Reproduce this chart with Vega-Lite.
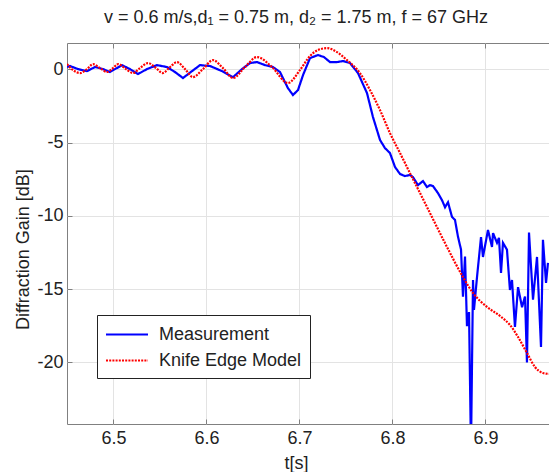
{
  "$schema": "https://vega.github.io/schema/vega-lite/v6.json",
  "width": 482,
  "height": 381,
  "autosize": {"type": "none"},
  "padding": {"left": 67, "top": 43, "right": 0, "bottom": 48},
  "background": "white",
  "config": {
    "font": "Liberation Sans",
    "view": {"stroke": "#808080", "strokeWidth": 1},
    "axis": {
      "labelFontSize": 18,
      "labelColor": "#222222",
      "titleFontSize": 18,
      "titleFontWeight": "normal",
      "titleColor": "#222222",
      "gridColor": "#e3e3e3",
      "gridWidth": 1,
      "domain": false,
      "tickColor": "#808080",
      "tickSize": -5,
      "labelExpr": "replace(datum.label, '−', '-')"
    },
    "legend": {
      "labelFontSize": 18,
      "labelColor": "#222222"
    }
  },
  "title": {
    "text": "v = 0.6 m/s,d₁ = 0.75 m, d₂ = 1.75 m, f = 67 GHz",
    "fontSize": 18,
    "fontWeight": "normal",
    "color": "#222222",
    "offset": 16,
    "dx": -12
  },
  "datasets": {
    "meas": [
      {"t": 6.450, "gain": 0.16, "series": "Measurement"},
      {"t": 6.4532, "gain": 0.23, "series": "Measurement"},
      {"t": 6.4618, "gain": 0.02, "series": "Measurement"},
      {"t": 6.4715, "gain": -0.12, "series": "Measurement"},
      {"t": 6.4801, "gain": 0.16, "series": "Measurement"},
      {"t": 6.4887, "gain": 0.02, "series": "Measurement"},
      {"t": 6.4962, "gain": -0.18, "series": "Measurement"},
      {"t": 6.5091, "gain": 0.29, "series": "Measurement"},
      {"t": 6.5177, "gain": 0.02, "series": "Measurement"},
      {"t": 6.5263, "gain": -0.32, "series": "Measurement"},
      {"t": 6.536, "gain": 0.02, "series": "Measurement"},
      {"t": 6.5468, "gain": 0.29, "series": "Measurement"},
      {"t": 6.5575, "gain": 0.16, "series": "Measurement"},
      {"t": 6.5661, "gain": -0.18, "series": "Measurement"},
      {"t": 6.5747, "gain": -0.59, "series": "Measurement"},
      {"t": 6.5844, "gain": -0.12, "series": "Measurement"},
      {"t": 6.593, "gain": 0.29, "series": "Measurement"},
      {"t": 6.6038, "gain": 0.23, "series": "Measurement"},
      {"t": 6.6167, "gain": -0.12, "series": "Measurement"},
      {"t": 6.6285, "gain": -0.53, "series": "Measurement"},
      {"t": 6.6382, "gain": 0.02, "series": "Measurement"},
      {"t": 6.6468, "gain": 0.43, "series": "Measurement"},
      {"t": 6.6543, "gain": 0.5, "series": "Measurement"},
      {"t": 6.6629, "gain": 0.29, "series": "Measurement"},
      {"t": 6.6715, "gain": 0.16, "series": "Measurement"},
      {"t": 6.679, "gain": -0.18, "series": "Measurement"},
      {"t": 6.6876, "gain": -1.28, "series": "Measurement"},
      {"t": 6.693, "gain": -1.75, "series": "Measurement"},
      {"t": 6.6984, "gain": -1.41, "series": "Measurement"},
      {"t": 6.7038, "gain": -0.39, "series": "Measurement"},
      {"t": 6.7113, "gain": 0.77, "series": "Measurement"},
      {"t": 6.7199, "gain": 0.98, "series": "Measurement"},
      {"t": 6.7263, "gain": 0.84, "series": "Measurement"},
      {"t": 6.7328, "gain": 0.5, "series": "Measurement"},
      {"t": 6.7403, "gain": 0.5, "series": "Measurement"},
      {"t": 6.7468, "gain": 0.57, "series": "Measurement"},
      {"t": 6.7543, "gain": 0.43, "series": "Measurement"},
      {"t": 6.7629, "gain": -0.25, "series": "Measurement"},
      {"t": 6.7726, "gain": -1.62, "series": "Measurement"},
      {"t": 6.779, "gain": -3.25, "series": "Measurement"},
      {"t": 6.7866, "gain": -4.82, "series": "Measurement"},
      {"t": 6.7919, "gain": -5.37, "series": "Measurement"},
      {"t": 6.7973, "gain": -5.71, "series": "Measurement"},
      {"t": 6.8027, "gain": -6.66, "series": "Measurement"},
      {"t": 6.8081, "gain": -7.14, "series": "Measurement"},
      {"t": 6.8134, "gain": -7.28, "series": "Measurement"},
      {"t": 6.8188, "gain": -7.21, "series": "Measurement"},
      {"t": 6.822, "gain": -7.35, "series": "Measurement"},
      {"t": 6.8274, "gain": -7.9, "series": "Measurement"},
      {"t": 6.8328, "gain": -7.62, "series": "Measurement"},
      {"t": 6.8371, "gain": -8.03, "series": "Measurement"},
      {"t": 6.8403, "gain": -7.9, "series": "Measurement"},
      {"t": 6.8435, "gain": -7.96, "series": "Measurement"},
      {"t": 6.8489, "gain": -8.44, "series": "Measurement"},
      {"t": 6.8532, "gain": -8.92, "series": "Measurement"},
      {"t": 6.8565, "gain": -9.41, "series": "Measurement"},
      {"t": 6.8597, "gain": -9.07, "series": "Measurement"},
      {"t": 6.864, "gain": -10.07, "series": "Measurement"},
      {"t": 6.8672, "gain": -10.27, "series": "Measurement"},
      {"t": 6.8704, "gain": -11.41, "series": "Measurement"},
      {"t": 6.8737, "gain": -12.3, "series": "Measurement"},
      {"t": 6.8758, "gain": -15.51, "series": "Measurement"},
      {"t": 6.878, "gain": -12.78, "series": "Measurement"},
      {"t": 6.8801, "gain": -17.52, "series": "Measurement"},
      {"t": 6.8823, "gain": -16.56, "series": "Measurement"},
      {"t": 6.8844, "gain": -26.0, "series": "Measurement"},
      {"t": 6.8866, "gain": -14.37, "series": "Measurement"},
      {"t": 6.8876, "gain": -16.42, "series": "Measurement"},
      {"t": 6.8909, "gain": -14.17, "series": "Measurement"},
      {"t": 6.8952, "gain": -11.44, "series": "Measurement"},
      {"t": 6.8973, "gain": -12.8, "series": "Measurement"},
      {"t": 6.9027, "gain": -10.96, "series": "Measurement"},
      {"t": 6.907, "gain": -12.12, "series": "Measurement"},
      {"t": 6.9081, "gain": -11.17, "series": "Measurement"},
      {"t": 6.9124, "gain": -11.84, "series": "Measurement"},
      {"t": 6.9145, "gain": -11.5, "series": "Measurement"},
      {"t": 6.9167, "gain": -13.89, "series": "Measurement"},
      {"t": 6.9188, "gain": -11.84, "series": "Measurement"},
      {"t": 6.9231, "gain": -12.3, "series": "Measurement"},
      {"t": 6.9263, "gain": -15.05, "series": "Measurement"},
      {"t": 6.9285, "gain": -14.37, "series": "Measurement"},
      {"t": 6.9317, "gain": -17.58, "series": "Measurement"},
      {"t": 6.935, "gain": -14.86, "series": "Measurement"},
      {"t": 6.9393, "gain": -16.23, "series": "Measurement"},
      {"t": 6.9425, "gain": -15.5, "series": "Measurement"},
      {"t": 6.9446, "gain": -20.0, "series": "Measurement"},
      {"t": 6.9468, "gain": -11.14, "series": "Measurement"},
      {"t": 6.9511, "gain": -15.71, "series": "Measurement"},
      {"t": 6.9554, "gain": -12.8, "series": "Measurement"},
      {"t": 6.9597, "gain": -18.95, "series": "Measurement"},
      {"t": 6.9618, "gain": -11.63, "series": "Measurement"},
      {"t": 6.9651, "gain": -14.57, "series": "Measurement"},
      {"t": 6.9672, "gain": -13.2, "series": "Measurement"}
    ],
    "model": [
      {"t": 6.450, "gain": 0.36, "series": "Knife Edge Model"},
      {"t": 6.4565, "gain": -0.05, "series": "Knife Edge Model"},
      {"t": 6.464, "gain": -0.25, "series": "Knife Edge Model"},
      {"t": 6.4715, "gain": 0.02, "series": "Knife Edge Model"},
      {"t": 6.478, "gain": 0.36, "series": "Knife Edge Model"},
      {"t": 6.4855, "gain": 0.09, "series": "Knife Edge Model"},
      {"t": 6.493, "gain": -0.18, "series": "Knife Edge Model"},
      {"t": 6.4995, "gain": 0.09, "series": "Knife Edge Model"},
      {"t": 6.505, "gain": 0.36, "series": "Knife Edge Model"},
      {"t": 6.5134, "gain": 0.02, "series": "Knife Edge Model"},
      {"t": 6.521, "gain": -0.25, "series": "Knife Edge Model"},
      {"t": 6.5285, "gain": 0.09, "series": "Knife Edge Model"},
      {"t": 6.537, "gain": 0.43, "series": "Knife Edge Model"},
      {"t": 6.5457, "gain": 0.09, "series": "Knife Edge Model"},
      {"t": 6.553, "gain": -0.25, "series": "Knife Edge Model"},
      {"t": 6.5608, "gain": 0.16, "series": "Knife Edge Model"},
      {"t": 6.5683, "gain": 0.5, "series": "Knife Edge Model"},
      {"t": 6.5769, "gain": 0.02, "series": "Knife Edge Model"},
      {"t": 6.5855, "gain": -0.53, "series": "Knife Edge Model"},
      {"t": 6.5962, "gain": 0.02, "series": "Knife Edge Model"},
      {"t": 6.607, "gain": 0.63, "series": "Knife Edge Model"},
      {"t": 6.6177, "gain": 0.09, "series": "Knife Edge Model"},
      {"t": 6.6285, "gain": -0.59, "series": "Knife Edge Model"},
      {"t": 6.6414, "gain": 0.16, "series": "Knife Edge Model"},
      {"t": 6.6543, "gain": 0.84, "series": "Knife Edge Model"},
      {"t": 6.6704, "gain": 0.16, "series": "Knife Edge Model"},
      {"t": 6.6876, "gain": -0.93, "series": "Knife Edge Model"},
      {"t": 6.7005, "gain": -0.05, "series": "Knife Edge Model"},
      {"t": 6.7113, "gain": 0.91, "series": "Knife Edge Model"},
      {"t": 6.7199, "gain": 1.32, "series": "Knife Edge Model"},
      {"t": 6.7296, "gain": 1.45, "series": "Knife Edge Model"},
      {"t": 6.7403, "gain": 1.18, "series": "Knife Edge Model"},
      {"t": 6.7511, "gain": 0.63, "series": "Knife Edge Model"},
      {"t": 6.765, "gain": -0.25, "series": "Knife Edge Model"},
      {"t": 6.7758, "gain": -1.41, "series": "Knife Edge Model"},
      {"t": 6.7866, "gain": -2.78, "series": "Knife Edge Model"},
      {"t": 6.7973, "gain": -4.35, "series": "Knife Edge Model"},
      {"t": 6.8081, "gain": -5.71, "series": "Knife Edge Model"},
      {"t": 6.8188, "gain": -7.08, "series": "Knife Edge Model"},
      {"t": 6.8296, "gain": -8.44, "series": "Knife Edge Model"},
      {"t": 6.8403, "gain": -9.8, "series": "Knife Edge Model"},
      {"t": 6.8586, "gain": -12.12, "series": "Knife Edge Model"},
      {"t": 6.8758, "gain": -14.17, "series": "Knife Edge Model"},
      {"t": 6.8866, "gain": -15.26, "series": "Knife Edge Model"},
      {"t": 6.9016, "gain": -16.21, "series": "Knife Edge Model"},
      {"t": 6.9156, "gain": -16.83, "series": "Knife Edge Model"},
      {"t": 6.9263, "gain": -17.44, "series": "Knife Edge Model"},
      {"t": 6.935, "gain": -18.26, "series": "Knife Edge Model"},
      {"t": 6.9446, "gain": -19.35, "series": "Knife Edge Model"},
      {"t": 6.9532, "gain": -20.31, "series": "Knife Edge Model"},
      {"t": 6.9618, "gain": -20.72, "series": "Knife Edge Model"},
      {"t": 6.9683, "gain": -20.78, "series": "Knife Edge Model"}
    ]
  },
  "resolve": {"axis": {"x": "independent"}},
  "layer": [
    {
      "data": {"name": "meas"},
      "mark": {"type": "line", "clip": true, "strokeWidth": 2.2, "interpolate": "linear"},
      "encoding": {
        "x": {
          "field": "t", "type": "quantitative",
          "scale": {"domain": [6.45, 6.9683], "nice": false, "zero": false},
          "axis": {
            "values": [6.5, 6.6, 6.7, 6.8, 6.9],
            "format": ".1f",
            "title": "t[s]",
            "labelPadding": 10,
            "titleX": 229,
            "titleY": 44,
            "titleBaseline": "alphabetic",
            "titleAnchor": null
          }
        },
        "y": {
          "field": "gain", "type": "quantitative",
          "scale": {"domain": [-24.2, 1.8], "nice": false, "zero": false},
          "axis": {
            "values": [-20, -15, -10, -5, 0],
            "title": "Diffraction Gain [dB]",
            "labelPadding": 9,
            "titleX": -39,
            "titleY": 206,
            "titleBaseline": "alphabetic"
          }
        },
        "color": {
          "field": "series", "type": "nominal",
          "scale": {"domain": ["Measurement", "Knife Edge Model"], "range": ["#0000ff", "#ff0000"]},
          "legend": {
            "title": null,
            "orient": "none",
            "legendX": 30,
            "legendY": 272,
            "symbolType": "M-1,0H3",
            "symbolSize": 441,
            "symbolStrokeWidth": 2,
            "fillColor": "white",
            "strokeColor": "#222222",
            "padding": 8,
            "rowPadding": 5,
            "labelOffset": 31
          }
        },
        "strokeDash": {
          "field": "series", "type": "nominal",
          "scale": {"domain": ["Measurement", "Knife Edge Model"], "range": [[1, 0], [2, 1.2]]},
          "legend": {
            "title": null,
            "orient": "none",
            "legendX": 30,
            "legendY": 272,
            "symbolType": "M-1,0H3",
            "symbolSize": 441,
            "symbolStrokeWidth": 2,
            "fillColor": "white",
            "strokeColor": "#222222",
            "padding": 8,
            "rowPadding": 5,
            "labelOffset": 31
          }
        }
      }
    },
    {
      "data": {"name": "model"},
      "mark": {"type": "line", "clip": true, "strokeWidth": 2.2, "interpolate": "monotone"},
      "encoding": {
        "x": {
          "field": "t", "type": "quantitative",
          "axis": {
            "orient": "top",
            "values": [6.5, 6.6, 6.7, 6.8, 6.9],
            "labels": false,
            "grid": false,
            "title": null
          }
        },
        "y": {"field": "gain", "type": "quantitative"},
        "color": {"field": "series", "type": "nominal"},
        "strokeDash": {"field": "series", "type": "nominal"}
      }
    }
  ]
}
